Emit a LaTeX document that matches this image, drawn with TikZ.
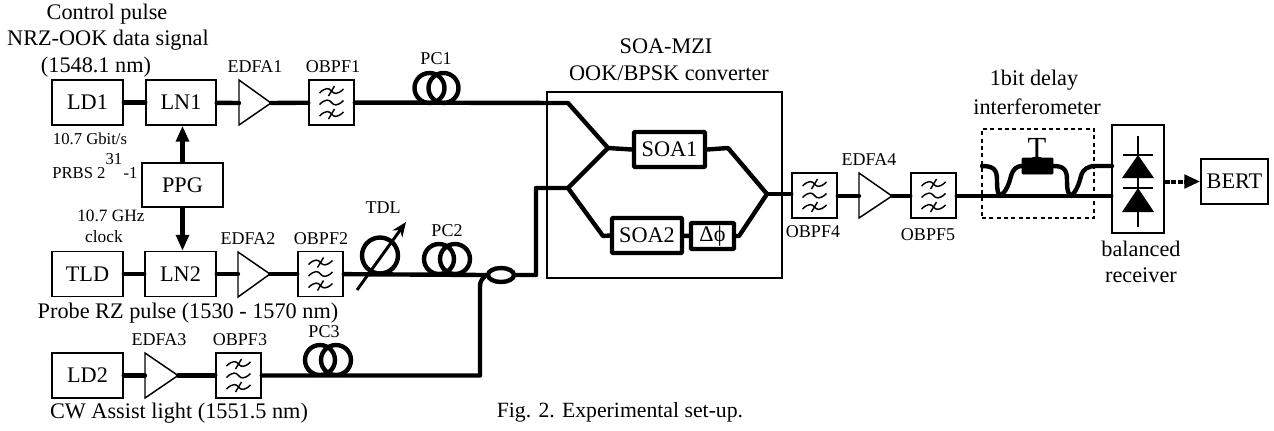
\documentclass[tikz,border=0pt]{standalone}
\usepackage{fontspec}
\setmainfont{Liberation Serif}
\usetikzlibrary{arrows.meta,shapes.geometric}
\tikzset{
 bx/.style 2 args={draw,line width=1.1pt,minimum width=#1*0.75pt,minimum height=#2*0.75pt,inner sep=0pt,font=\fontsize{16.7}{18}\selectfont},
 soabox/.style 2 args={draw,line width=3.2pt,rounded corners=0.6pt,minimum width=#1*0.75pt,minimum height=#2*0.75pt,inner sep=0pt,fill=white,font=\fontsize{16.7}{18}\selectfont},
 frame/.style={line width=1.1pt},
 fiber/.style={line width=3.3pt,line cap=round,line join=round},
 loopc/.style={line width=3.3pt},
 big/.style={inner sep=0pt,font=\fontsize{16.7}{18}\selectfont},
 mid/.style={inner sep=0pt,font=\fontsize{13.5}{15}\selectfont},
 small/.style={inner sep=0pt,font=\fontsize{12.5}{14}\selectfont},
 tri/.style={line width=1.1pt,line join=miter},
 ctl/.style={line width=3.3pt,-{Triangle[length=12pt,width=9.5pt]}},
 filtersym/.pic={
  \foreach \d in {-11.5,0,11.5}{
   \draw[line width=1.1pt] (-12,\d+2) .. controls (-6,\d-4) and (-2,\d-3) .. (0,\d) .. controls (2,\d+3) and (6,\d+4) .. (12,\d-2);
  }
  \draw[line width=1.1pt] (-3,-11.5+5) -- (3,-11.5-5);
  \draw[line width=1.1pt] (-3,11.5+5) -- (3,11.5-5);
 }
}
\begin{document}
\begin{tikzpicture}[x=0.75pt,y=-0.75pt]
\useasboundingbox (0,0) rectangle (1274,430);
% top row
\node[bx={71}{45}] (LD1) at (87.5,102.5) {LD1};
\node[bx={70}{45}] (LN1) at (181,102.5) {LN1};
\coordinate (e1t) at (239,103); \coordinate (e1a) at (271,103);
\draw[tri] (239,80) -- (e1a) -- (239,125) -- cycle;
\node[bx={45}{45}] (F1) at (331.5,102.5) {};
\pic at (F1) {filtersym};
\draw[fiber] (LD1) -- (LN1);
\draw[fiber] (LN1) -- (e1t);
\draw[fiber] (e1a) -- (F1);
\coordinate (j1) at (568,103);
\coordinate (j2) at (608,148);
\draw[fiber] (F1) -- (j1) -- (j2);
\draw[loopc] (429.5,88) circle (15);
\draw[loopc] (443.5,88) circle (15);
% PPG
\node[bx={81}{44}] (PPG) at (182.5,185) {PPG};
% second row
\node[bx={71}{45}] (TLD) at (87.5,274) {TLD};
\node[bx={71}{45}] (LN2) at (180.5,274) {LN2};
\coordinate (e2t) at (238,274); \coordinate (e2a) at (270,274);
\draw[tri] (238,252) -- (e2a) -- (238,297) -- cycle;
\node[bx={45}{45}] (F2) at (320.5,274) {};
\pic at (F2) {filtersym};
\draw[fiber] (TLD) -- (LN2);
\draw[fiber] (LN2) -- (e2t);
\draw[fiber] (e2a) -- (F2);
\draw[ctl] (PPG.north) -- (PPG.north |- LN1.south);
\draw[ctl] (PPG.south) -- (PPG.south |- LN2.north);
\node[draw,ellipse,line width=3.3pt,minimum width=26*0.75pt,minimum height=14*0.75pt,inner sep=0pt] (CP) at (501,275) {};
\draw[fiber] (F2) -- (CP.west);
\draw[loopc] (380,255.5) circle (18);
\coordinate (ta) at (357,290); \coordinate (tb) at (406,222);
\draw[line width=2.2pt,-{Stealth[length=11pt,width=9pt]}] (ta) -- (tb);
\draw[loopc] (439,259) circle (15);
\draw[loopc] (455,259) circle (15);
% third row
\node[bx={71}{45}] (LD2) at (87.5,375.5) {LD2};
\coordinate (e3t) at (145,375.5); \coordinate (e3a) at (178,375.5);
\draw[tri] (145,353) -- (e3a) -- (145,398) -- cycle;
\node[bx={45}{45}] (F3) at (238.5,375.5) {};
\pic at (F3) {filtersym};
\draw[fiber] (LD2) -- (e3t);
\draw[fiber] (e3a) -- (F3);
\draw[loopc] (320,360) circle (15);
\draw[loopc] (336,360) circle (15);
\coordinate (c3) at (480,375.5);
\draw[fiber] (F3) -- (c3) -- (480,287) .. controls (480,279) and (484,278) .. (CP.west);
% MZI
\node[draw,frame,minimum width=235*0.75pt,minimum height=186*0.75pt,inner sep=0pt] (MZI) at (664.5,185) {};
\coordinate (c1) at (536,275);
\coordinate (j3) at (568,188);
\draw[fiber] (CP.east) -- (c1) -- (536,188) -- (j3) -- (j2);
\node[soabox={71}{35}] (SOA1) at (669.5,149.5) {SOA1};
\node[soabox={70}{35}] (SOA2) at (647,235.5) {SOA2};
\node[soabox={43}{26}] (DP) at (712.5,236) {Δϕ};
\coordinate (j4) at (603,236); \coordinate (j5) at (739,236);
\coordinate (j6) at (728,148); \coordinate (j7) at (767,194);
\draw[fiber] (j2) -- (SOA1.west);
\draw[fiber] (j3) -- (j4) -- (SOA2.west);
\draw[fiber] (SOA2) -- (DP);
\draw[fiber] (SOA1.east) -- (j6) -- (j7);
\draw[fiber] (DP.east) -- (j5) -- (j7);
% after MZI
\node[bx={45}{45}] (F4) at (814.5,195.5) {};
\pic at (F4) {filtersym};
\draw[fiber] (j7) -- (F4.west |- j7);
\coordinate (e4t) at (859,196); \coordinate (e4a) at (892,196);
\draw[tri] (859,173) -- (e4a) -- (859,218) -- cycle;
\draw[fiber] (F4.east |- e4t) -- (e4t);
\node[bx={45}{45}] (F5) at (933.5,195.5) {};
\pic at (F5) {filtersym};
\draw[fiber] (e4a) -- (F5.west |- e4a);
% receiver
\node[draw,frame,minimum width=52*0.75pt,minimum height=108*0.75pt,inner sep=0pt] (BR) at (1138,179) {};
\node[bx={67}{45}] (BERT) at (1234.5,181.5) {BERT};
% delay interferometer
\node[draw,line width=1.2pt,minimum width=112*0.75pt,minimum height=89*0.75pt,inner sep=0pt,dash pattern=on 3pt off 2.5pt] (DI) at (1038,173.5) {};
\node[fill=black,draw=black,minimum width=31*0.75pt,minimum height=16*0.75pt,inner sep=0pt,rounded corners=0.5pt] (TB) at (1037.5,166) {};
\coordinate (d0) at (982,166); \coordinate (d1) at (1000,196); \coordinate (d2) at (1071,196); \coordinate (d3) at (1112,166);
\draw[fiber] (F5.east |- d1) -- (BR.west |- d1);
\draw[fiber] (d0) .. controls (994,166) and (997,170) .. (997,180) .. controls (997,190) and (998,194) .. (d1) .. controls (1006,192) and (1009,184) .. (1011,176) .. controls (1013,169) and (1017,166) .. (TB.west);
\draw[fiber] (TB.east) .. controls (1064,166) and (1067,170) .. (1067,180) .. controls (1067,190) and (1068,194) .. (d2) .. controls (1076,192) and (1079,184) .. (1081,176) .. controls (1083,169) and (1088,166) .. (1096,166) -- (d3);
\node[anchor=base,inner sep=0pt,font=\fontsize{23}{24}\selectfont] (TT) at (1037,158) {T};
% diodes
\draw[line width=1.5pt] (1138,136) -- (1138,227);
\draw[line width=1.5pt] (1123,155) -- (1153,155);
\draw[line width=1.5pt] (1123,188) -- (1153,188);
\fill (1138,155) -- (1154,178) -- (1122,178) -- cycle;
\fill (1138,188) -- (1154,212) -- (1122,212) -- cycle;
\draw[line width=3pt,dash pattern=on 4pt off 0.8pt,-{Triangle[length=12pt,width=10pt]}] (BR.east |- BERT) -- (BERT.west);
% labels
\node[big] (l1) at (107,14) {Control pulse};
\node[big] (l2) at (108,40) {NRZ-OOK data signal};
\node[big] (l3) at (96,67) {(1548.1 nm)};
\node[mid] (a1) at (255,67) {EDFA1};
\node[mid] (o1) at (333,67) {OBPF1};
\node[mid] (p1) at (436,59) {PC1};
\node[small] (g1) at (90,139) {10.7 Gbit/s};
\node[small,anchor=base west] (g2) at (52,178) {PRBS 2\raisebox{10.5pt}{31}\kern1pt-1};
\node[small,font=\fontsize{13}{14}\selectfont] (g3) at (111,216) {10.7 GHz};
\node[small,font=\fontsize{13}{14}\selectfont] (g4) at (104,237) {clock};
\node[mid] (t1) at (383,208) {TDL};
\node[mid] (p2) at (447,231) {PC2};
\node[mid] (a2) at (248,239) {EDFA2};
\node[mid] (o2) at (321,239) {OBPF2};
\node[big] (l4) at (188,313) {Probe RZ pulse (1530 - 1570 nm)};
\node[mid] (p3) at (324,332) {PC3};
\node[mid] (a3) at (159,340) {EDFA3};
\node[mid] (o3) at (240,340) {OBPF3};
\node[big] (l5) at (179,413) {CW Assist light (1551.5 nm)};
\node[big,font=\fontsize{16.3}{18}\selectfont] (cap) at (620,412) {Fig. 2. Experimental set-up.};
\node[big] (m1) at (666,46) {SOA-MZI};
\node[big] (m2) at (669,73) {OOK/BPSK converter};
\node[mid] (o4) at (813,232) {OBPF4};
\node[mid] (a4) at (869,160) {EDFA4};
\node[mid] (o5) at (928,235) {OBPF5};
\node[big] (i1) at (1034,80) {1bit delay};
\node[big] (i2) at (1037,107) {interferometer};
\node[big] (r1) at (1141,249) {balanced};
\node[big] (r2) at (1141,275) {receiver};
\end{tikzpicture}
\end{document}
